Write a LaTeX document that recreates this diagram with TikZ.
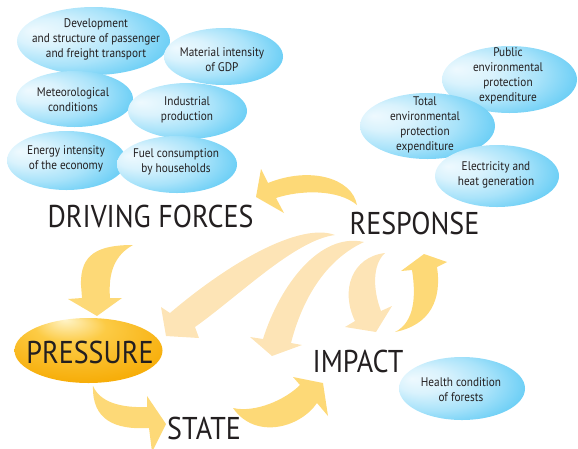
\documentclass[tikz,border=0pt]{standalone}
\usepackage{fontspec}
\setmainfont{PT Sans}[FakeStretch=0.9]
\newfontfamily\stagefont{PT Sans}[FakeStretch=0.89]
\usetikzlibrary{shapes.geometric}

\definecolor{ink}{HTML}{231F20}
\definecolor{arrowgold}{HTML}{FDD977}
\definecolor{arrowpale}{HTML}{FDE4B6}
\definecolor{bluehi}{HTML}{EEF9FE}
\definecolor{bluemid}{HTML}{A9E3FA}
\definecolor{blueout}{HTML}{58C8F4}
\definecolor{amberhi}{HTML}{FFF4C8}
\definecolor{ambermid}{HTML}{FCCB45}
\definecolor{amberout}{HTML}{F6A900}

\pgfdeclareradialshading{bluegloss}{\pgfpoint{-20bp}{8bp}}{%
  color(0bp)=(bluehi); color(10bp)=(bluehi!70!bluemid); color(22bp)=(bluemid);
  color(36bp)=(blueout); color(50bp)=(blueout)}
\pgfdeclareradialshading{ambergloss}{\pgfpoint{-8bp}{24bp}}{%
  color(0bp)=(amberhi); color(12bp)=(ambermid); color(32bp)=(amberout!85!ambermid);
  color(50bp)=(amberout)}

\tikzset{
  bubble/.style={ellipse, inner sep=0pt, shading=bluegloss},
  bubbletext/.style={align=center, text=ink, font=\fontsize{12.5}{15}\selectfont, inner sep=0pt},
  stagelabel/.style={text=ink, font=\stagefont\fontsize{31.5}{32}\selectfont, inner sep=0pt, anchor=base},
  goldarrow/.style={fill=arrowgold},
  palearrow/.style={fill=arrowpale},
}

\begin{document}
\begin{tikzpicture}[x=1pt, y=-1pt]
\path[use as bounding box] (0,0) rectangle (578,448);

% --- pale feedback arrows from RESPONSE ---
\path[palearrow] (335,235) .. controls (300,222) and (230,262) .. (170,313)
  -- (161,307) -- (166,336) -- (199,338) -- (195,327)
  .. controls (240,295) and (295,240) .. (335,235) -- cycle;
\path[palearrow] (364,242) .. controls (320,232) and (280,285) .. (263,339)
  -- (250,337) -- (272,356) -- (302,345) -- (291,343)
  .. controls (302,300) and (325,260) .. (364,242) -- cycle;
\path[palearrow] (385,253) .. controls (352,257) and (340,290) .. (355,321)
  -- (345,327) -- (376,332) -- (392,306) -- (381,311)
  .. controls (373,290) and (372,265) .. (385,253) -- cycle;

% --- main cycle arrows ---
% driving forces -> pressure
\path[goldarrow] (133,245) .. controls (98,245) and (80,254) .. (81,285)
  -- (82,298) -- (68,299) -- (97,316) -- (122,298) -- (110,298)
  .. controls (108,272) and (115,255) .. (133,245) -- cycle;
% response -> driving forces
\path[goldarrow] (357,205) .. controls (352,178) and (310,166) .. (268,183)
  -- (261,169) -- (256,197) -- (284,213) -- (276,198)
  .. controls (300,190) and (338,189) .. (357,205) -- cycle;
% pressure -> state
\path[goldarrow] (93,386) .. controls (92,420) and (115,430) .. (149,428)
  -- (152,452) -- (166,424) -- (147,396) -- (147,407)
  .. controls (120,408) and (100,402) .. (93,386) -- cycle;
% state -> impact
\path[goldarrow] (233,408) .. controls (255,413) and (285,400) .. (300,385)
  -- (293,377) -- (323,383) -- (328,416) -- (317,403)
  .. controls (300,428) and (255,440) .. (233,408) -- cycle;
% impact -> response
\path[goldarrow] (395,332) .. controls (415,322) and (416,295) .. (412,270)
  -- (401,271) -- (424,254) -- (447,262) -- (437,267)
  .. controls (442,300) and (430,325) .. (395,332) -- cycle;

% --- indicator bubbles, driving forces ---
\node[bubble, minimum width=153pt, minimum height=68pt] (dev) at (93.5,41) {};
\node[bubbletext] (devt) at (96,39) {Development\\and structure of passenger\\and freight transport};
\node[bubble, minimum width=119pt, minimum height=57pt] (mat) at (223.5,56.5) {};
\node[bubbletext] (matt) at (222,59.5) {Material intensity\\of GDP};
\node[bubble, minimum width=117pt, minimum height=56pt] (met) at (74.5,99) {};
\node[bubbletext] (mett) at (73,100) {Meteorological\\conditions};
\node[bubble, minimum width=119pt, minimum height=56pt] (ind) at (187.5,111) {};
\node[bubbletext] (indt) at (187,110) {Industrial\\production};
\node[bubble, minimum width=119pt, minimum height=59pt] (ene) at (66.5,160.5) {};
\node[bubbletext] (enet) at (66,159) {Energy intensity\\of the economy};
\node[bubble, minimum width=120pt, minimum height=57pt] (fue) at (177,164.5) {};
\node[bubbletext] (fuet) at (176,161.5) {Fuel consumption\\by households};

% --- indicator bubbles, response ---
\node[bubble, minimum width=135pt, minimum height=67pt] (pub) at (509.5,79.5) {};
\node[bubbletext] (pubt) at (508,75.5) {Public\\environmental\\protection\\expenditure};
\node[bubble, minimum width=135pt, minimum height=66pt] (tot) at (427.5,126) {};
\node[bubbletext] (tott) at (425,124.5) {Total\\environmental\\protection\\expenditure};
\node[bubble, minimum width=124pt, minimum height=62pt] (ele) at (497,176) {};
\node[bubbletext] (elet) at (496,175) {Electricity and\\heat generation};

% --- indicator bubble, impact ---
\node[bubble, minimum width=126pt, minimum height=63pt] (hea) at (462,388.5) {};
\node[bubbletext] (heat) at (461,389.5) {Health condition\\of forests};

% --- pressure highlight ---
\node[ellipse, inner sep=0pt, shading=ambergloss, minimum width=148pt, minimum height=65pt] (pre) at (88.5,350.5) {};

% --- stage labels ---
\node[stagelabel] (df) at (150.5,227) {DRIVING FORCES};
\node[stagelabel] (rs) at (414.5,234) {RESPONSE};
\node[stagelabel] (pr) at (90,363) {PRESSURE};
\node[stagelabel] (im) at (358,372) {IMPACT};
\node[stagelabel] (st) at (204,439) {STATE};
\end{tikzpicture}
\end{document}
